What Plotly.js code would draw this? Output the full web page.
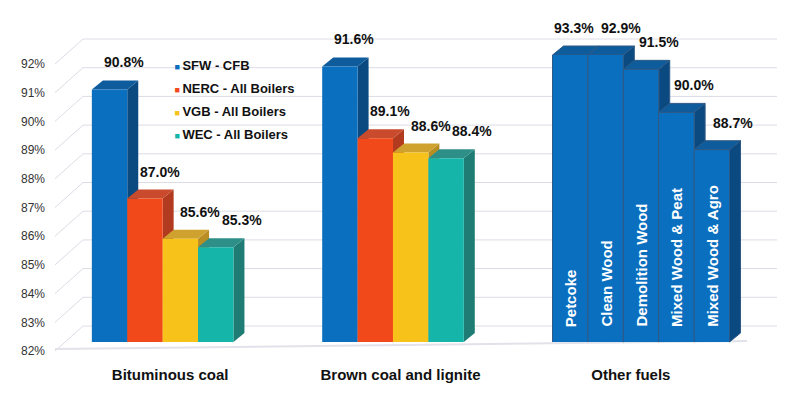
<!DOCTYPE html>
<html>
<head>
<meta charset="utf-8">
<script src="https://cdn.plot.ly/plotly-3.0.1.min.js"></script>
<style>html,body{margin:0;padding:0;background:#fff;}#chart{width:800px;height:393px;}</style>
</head>
<body>
<div id="chart"></div>
<script>
// ---------- data ----------
const categories = ['Bituminous coal', 'Brown coal and lignite', 'Other fuels'];
const seriesNames = ['SFW - CFB', 'NERC - All Boilers', 'VGB - All Boilers', 'WEC - All Boilers'];
const sfwValues = [90.8, 91.6];
const nercValues = [87.0, 89.1];
const vgbValues = [85.6, 88.6];
const wecValues = [85.3, 88.4];
const otherFuelNames = ['Petcoke', 'Clean Wood', 'Demolition Wood', 'Mixed Wood & Peat', 'Mixed Wood & Agro'];
const otherFuelValues = [93.3, 92.9, 91.5, 90.0, 88.7];
const yTicks = [82, 83, 84, 85, 86, 87, 88, 89, 90, 91, 92];
const yTickLabels = yTicks.map(t => t + '%');

// ---------- style ----------
const W = 800, H = 393;
const M = {l: 55, r: 54, t: 55, b: 51};
const PW = W - M.l - M.r, PH = H - M.t - M.b;
const X_RANGE = [-0.5, 2.5];
const Y_MIN = 82, Y_MAX = 92;
const CAT_PX = PW / (X_RANGE[1] - X_RANGE[0]);
const BAR_W = 35.4 / CAT_PX;
const START = -0.34;
const DX = 11 / CAT_PX;      // depth in x (data units)
const DY = 9 / PH;           // depth in y (domain units)
const FONT = 'Arial, "Liberation Sans", sans-serif';

const seriesValues = [sfwValues, nercValues, vgbValues, wecValues];
const frontColors = ['#0B6FBF', '#F2491B', '#F7C219', '#16B5AA'];
const sideColors  = ['#0A4A80', '#B23B1F', '#B88D22', '#1E7C75'];
const topColors   = ['#0E5C9C', '#C94A2C', '#CFA12E', '#2E8F89'];
const labelXShift = [14, 15, 20, 26];
const otherLabelXShift = [4, 15, 18, 18, 21];
const LABEL_YSHIFT = 27;

const frac = v => (Math.min(v, Y_MAX) - Y_MIN) / (Y_MAX - Y_MIN);

const traces = [];
const shapes = [];
const annotations = [];

// back-wall gridlines + diagonals (decoration from tick values)
yTicks.forEach(t => {
  shapes.push({type: 'line', xref: 'paper', xsizemode: 'pixel', xanchor: 0, x0: 28, x1: 722,
    yref: 'y domain', ysizemode: 'pixel', yanchor: frac(t), y0: 16, y1: 16,
    line: {color: '#DCDCE6', width: 1}, layer: 'below'});
  shapes.push({type: 'line', xref: 'paper', xsizemode: 'pixel', xanchor: 0, x0: 0, x1: 28,
    yref: 'y domain', ysizemode: 'pixel', yanchor: frac(t), y0: -9, y1: 16,
    line: {color: '#DCDCE6', width: 1}, layer: 'below'});
});
// floor front edge
shapes.push({type: 'line', xref: 'paper', xsizemode: 'pixel', xanchor: 0, x0: 0, x1: 692,
  yref: 'y domain', ysizemode: 'pixel', yanchor: 0, y0: -7, y1: 1,
  line: {color: '#E2E2EA', width: 2}, layer: 'below'});

function addFaces(xl, v, side, top, outline) {
  const xr = xl + BAR_W, yt = frac(v);
  const ln = outline ? {color: outline, width: 1} : {width: 0};
  shapes.push({type: 'path', xref: 'x', yref: 'y domain', layer: 'below', fillcolor: side, line: ln,
    path: `M ${xr},${yt} L ${xr + DX},${yt + DY} L ${xr + DX},${DY} L ${xr},0 Z`});
  shapes.push({type: 'path', xref: 'x', yref: 'y domain', layer: 'below', fillcolor: top, line: ln,
    path: `M ${xl},${yt} L ${xr},${yt} L ${xr + DX},${yt + DY} L ${xl + DX},${yt + DY} Z`});
}

// grouped series
seriesValues.forEach((vals, s) => {
  const off = START + s * BAR_W;
  traces.push({type: 'bar', name: seriesNames[s], x: categories.slice(0, vals.length), y: vals,
    width: BAR_W, offset: off, marker: {color: frontColors[s], line: {width: 0}},
    showlegend: false, hoverinfo: 'skip'});
  vals.forEach((v, c) => {
    addFaces(c + off, v, sideColors[s], topColors[s], null);
    annotations.push({x: c + off + BAR_W / 2, y: Math.min(v, Y_MAX), xref: 'x', yref: 'y',
      text: v.toFixed(1) + '%', showarrow: false, xshift: labelXShift[s], yshift: LABEL_YSHIFT,
      font: {family: FONT, size: 14, weight: 'bold', color: '#111'}});
  });
});

// other fuels (SFW - CFB)
const otherCat = categories.indexOf('Other fuels');
const otherOffsets = otherFuelValues.map((v, i) => START + i * BAR_W);
traces.push({type: 'bar', name: 'Other fuels', x: otherFuelNames.map(() => 'Other fuels'), y: otherFuelValues,
  width: BAR_W, offset: otherOffsets, marker: {color: frontColors[0], line: {color: '#2F5A86', width: 1}},
  showlegend: false, hoverinfo: 'skip'});
otherFuelValues.forEach((v, i) => {
  const xl = otherCat + otherOffsets[i];
  addFaces(xl, v, sideColors[0], topColors[0], '#2F5A86');
  annotations.push({x: xl + BAR_W / 2, y: Math.min(v, Y_MAX), xref: 'x', yref: 'y',
    text: v.toFixed(1) + '%', showarrow: false, xshift: otherLabelXShift[i], yshift: LABEL_YSHIFT,
    font: {family: FONT, size: 14, weight: 'bold', color: '#111'}});
  annotations.push({x: xl + BAR_W / 2, y: Y_MIN, xref: 'x', yref: 'y', text: otherFuelNames[i],
    showarrow: false, textangle: -90, yanchor: 'bottom', xanchor: 'center', yshift: 13,
    font: {family: FONT, size: 15, weight: 'bold', color: '#FFFFFF'}});
});

// legend entries (small coloured square right before the name)
seriesNames.forEach((n, s) => {
  traces.push({type: 'scatter', mode: 'markers', x: [null], y: [null], legendgroup: 'g' + s,
    name: `<span style="color:${frontColors[s]};font-size:9px">■ </span>${n}`,
    marker: {symbol: 'square', size: 0.1, color: 'rgba(0,0,0,0)'}, hoverinfo: 'skip'});
});

const layout = {
  width: W, height: H,
  margin: M,
  paper_bgcolor: '#FFFFFF', plot_bgcolor: 'rgba(0,0,0,0)',
  barmode: 'overlay',
  showlegend: true,
  legend: {x: 0.115, y: 1.017, xanchor: 'left', yanchor: 'top', bgcolor: 'rgba(0,0,0,0)',
    traceorder: 'grouped', tracegroupgap: 3, itemwidth: 30,
    font: {family: FONT, size: 13, weight: 'bold', color: '#111'}},
  xaxis: {type: 'category', categoryorder: 'array', categoryarray: categories, range: X_RANGE,
    showgrid: false, zeroline: false, showline: false, ticks: '', ticklabelstandoff: 22,
    tickfont: {family: FONT, size: 15, weight: 'bold', color: '#111'}},
  yaxis: {range: [Y_MIN, Y_MAX], tickvals: yTicks, ticktext: yTickLabels, showgrid: false, zeroline: false,
    showline: false, ticks: '', ticklabelshift: 9, ticklabelstandoff: 9,
    tickfont: {family: FONT, size: 12, color: '#333'}},
  shapes: shapes,
  annotations: annotations
};

Plotly.newPlot('chart', traces, layout, {displayModeBar: false, staticPlot: true});
</script>
</body>
</html>
